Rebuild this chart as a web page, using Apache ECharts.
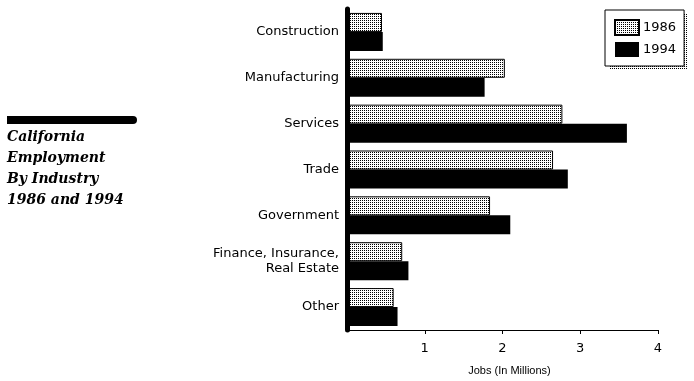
<!DOCTYPE html>
<html>
<head>
<meta charset="utf-8">
<script src="https://cdn.jsdelivr.net/npm/echarts@6/dist/echarts.min.js"></script>
<style>html,body{margin:0;padding:0;background:#fff;}#chart{width:694px;height:381px;}</style>
</head>
<body>
<div id="chart"></div>
<script>
const categories = ['Construction', 'Manufacturing', 'Services', 'Trade', 'Government', 'Finance, Insurance,\nReal Estate', 'Other'];
const seriesNames = ['1986', '1994'];
const values1986 = [0.45, 2.03, 2.77, 2.65, 1.84, 0.71, 0.60];
const values1994 = [0.46, 1.77, 3.60, 2.84, 2.10, 0.79, 0.65];
const xTicks = [0, 1, 2, 3, 4];
const titleLines = ['California', 'Employment', 'By Industry', '1986 and 1994'];

function dotPattern() {
  const c = document.createElement('canvas');
  c.width = 2; c.height = 2;
  const g = c.getContext('2d');
  g.fillStyle = '#fff'; g.fillRect(0, 0, 2, 2);
  g.fillStyle = '#000'; g.fillRect(0, 0, 1, 1);
  return c;
}
const pat = { image: dotPattern(), repeat: 'repeat' };

const chart = echarts.init(document.getElementById('chart'), null, { renderer: 'canvas' });
chart.setOption({
  animation: false,
  backgroundColor: '#fff',
  grid: { left: 347, top: 9, right: 36, bottom: 49, containLabel: false },
  legend: {
    orient: 'vertical',
    left: 605, top: 10,
    z: 5,
    data: seriesNames,
    icon: 'rect',
    itemWidth: 24, itemHeight: 15, itemGap: 6,
    padding: [9, 8, 9, 9],
    borderColor: '#000', borderWidth: 1,
    backgroundColor: '#fff',
    textStyle: { fontFamily: 'DejaVu Sans', fontSize: 13, color: '#000', padding: [0, 0, 0, -1] }
  },
  xAxis: {
    type: 'value',
    min: xTicks[0], max: xTicks[xTicks.length - 1], interval: 1,
    z: 3,
    axisLine: { show: true, lineStyle: { color: '#000', width: 1 } },
    axisTick: { show: true, length: 4, lineStyle: { color: '#000' } },
    axisLabel: { showMinLabel: false, margin: 12, color: '#000', fontFamily: 'DejaVu Sans', fontSize: 13 },
    splitLine: { show: false },
    name: 'Jobs (In Millions)',
    nameLocation: 'middle',
    nameGap: 35,
    nameTextStyle: { fontFamily: 'Liberation Sans', fontSize: 11, color: '#000', padding: [0, 0, 0, 14] }
  },
  yAxis: {
    type: 'category',
    data: categories,
    inverse: true,
    z: 3,
    axisLine: { show: true, lineStyle: { color: '#000', width: 5 } },
    axisTick: { show: false },
    axisLabel: { margin: 8, color: '#000', fontFamily: 'DejaVu Sans', fontSize: 13, lineHeight: 15 },
    splitLine: { show: false }
  },
  series: [
    {
      name: seriesNames[0], type: 'bar', data: values1986,
      barWidth: 19, barGap: '0%',
      itemStyle: { color: pat, borderColor: '#000', borderWidth: 1 }
    },
    {
      name: seriesNames[1], type: 'bar', data: values1994,
      barWidth: 19, barGap: '0%',
      itemStyle: { color: '#000' }
    }
  ],
  graphic: [
    { type: 'rect', z: 1, shape: { x: 609, y: 14, width: 78, height: 55 }, style: { fill: pat } },
    { type: 'rect', z: 1, shape: { x: 7, y: 116, width: 130, height: 8, r: [0, 4, 4, 0] }, style: { fill: '#000' } },
    { type: 'text', z: 1, left: 7, top: 127,
      style: { text: titleLines.join('\n'), fill: '#000', font: 'italic bold 14px "DejaVu Serif"', lineHeight: 21 } }
  ]
});
</script>
</body>
</html>
